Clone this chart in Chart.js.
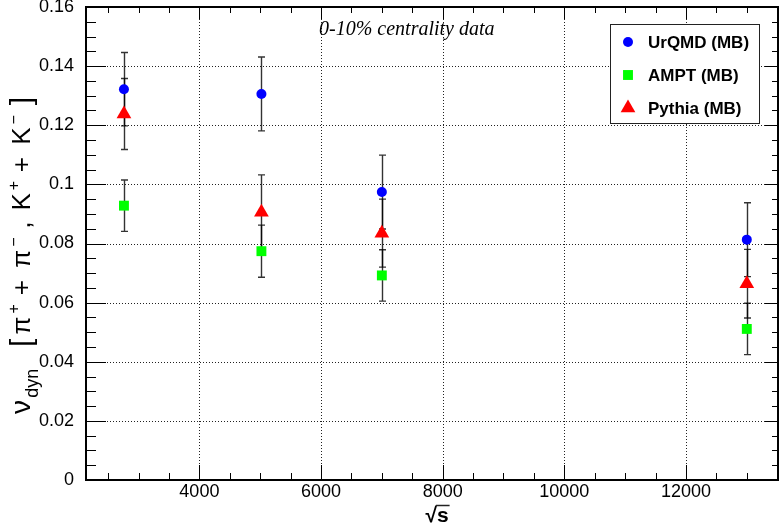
<!DOCTYPE html>
<html>
<head>
<meta charset="utf-8">
<script src="https://cdn.jsdelivr.net/npm/chart.js@4/dist/chart.umd.min.js"></script>
<style>
  html, body { margin: 0; padding: 0; background: #fff; overflow: hidden; }
  canvas { display: block; }
</style>
</head>
<body>
<canvas id="c" width="780" height="529"></canvas>
<script>
// sqrt(s) in GeV
const energies = [2760, 5020, 7000, 13000];

const urqmd = [0.1322, 0.1306, 0.0974, 0.0813];
const urqmdErr = [0.0124, 0.0125, 0.0125, 0.0125];

const ampt = [0.0928, 0.0774, 0.0692, 0.0511];
const amptErr = [0.0087, 0.0088, 0.0087, 0.0087];

const pythia = [0.1238, 0.0906, 0.0835, 0.0664];
const pythiaErr = [0.0120, 0.0126, 0.0115, 0.0116];

const xTickLabels = ['4000', '6000', '8000', '10000', '12000'];
const yTickLabels = ['0', '0.02', '0.04', '0.06', '0.08', '0.1', '0.12', '0.14', '0.16'];

const xRange = [2136, 13513];
const yRange = [0, 0.16];

const FONT = '"Liberation Sans", Arial, Helvetica, sans-serif';

const series = [
  { label: 'UrQMD (MB)', data: urqmd, err: urqmdErr, color: '#0000ff', style: 'circle', r: 5 },
  { label: 'AMPT (MB)', data: ampt, err: amptErr, color: '#00ff00', style: 'rect', r: 7 },
  { label: 'Pythia (MB)', data: pythia, err: pythiaErr, color: '#ff0000', style: 'triangle', r: 8.5 },
];

function marker(ctx, style, x, y, r, color) {
  ctx.save();
  ctx.fillStyle = color;
  ctx.beginPath();
  if (style === 'circle') {
    ctx.arc(x, y, r, 0, Math.PI * 2);
  } else if (style === 'rect') {
    const s = r / Math.SQRT2;
    ctx.rect(x - s, y - s, 2 * s, 2 * s);
  } else {
    ctx.moveTo(x, y - r);
    ctx.lineTo(x + r * 0.866, y + r / 2);
    ctx.lineTo(x - r * 0.866, y + r / 2);
    ctx.closePath();
  }
  ctx.fill();
  ctx.restore();
}

// dotted grid + error bars, under the markers
const underPlugin = {
  id: 'under',
  beforeDatasetsDraw(chart) {
    const { ctx, chartArea: a, scales: { x, y } } = chart;
    ctx.save();
    ctx.strokeStyle = '#222';
    ctx.lineWidth = 1;
    ctx.setLineDash([1, 2]);
    x.ticks.forEach(t => {
      const px = Math.round(x.getPixelForValue(t.value)) + 0.5;
      ctx.beginPath(); ctx.moveTo(px, a.top); ctx.lineTo(px, a.bottom); ctx.stroke();
    });
    y.ticks.forEach(t => {
      if (t.value <= yRange[0] || t.value >= yRange[1] - 1e-9) return;
      const py = Math.round(y.getPixelForValue(t.value)) + 0.5;
      ctx.beginPath(); ctx.moveTo(a.left, py); ctx.lineTo(a.right, py); ctx.stroke();
    });
    ctx.setLineDash([]);

    // error bars
    ctx.strokeStyle = 'rgba(0,0,0,0.8)';
    ctx.lineWidth = 1.4;
    series.forEach(s => {
      s.data.forEach((v, i) => {
        const px = Math.round(x.getPixelForValue(energies[i])) + 0.5;
        const y1 = y.getPixelForValue(v + s.err[i]);
        const y2 = y.getPixelForValue(v - s.err[i]);
        ctx.beginPath();
        ctx.moveTo(px, y1); ctx.lineTo(px, y2);
        ctx.moveTo(px - 3.5, y1); ctx.lineTo(px + 3.5, y1);
        ctx.moveTo(px - 3.5, y2); ctx.lineTo(px + 3.5, y2);
        ctx.stroke();
      });
    });
    ctx.restore();
  }
};

// frame, tick marks, legend and texts
const overPlugin = {
  id: 'over',
  afterDraw(chart) {
    const { ctx, chartArea: a, scales: { x, y } } = chart;
    ctx.save();
    ctx.strokeStyle = '#000';
    ctx.lineWidth = 1;

    // x ticks (bottom and top)
    for (let v = Math.ceil(xRange[0] / 500) * 500; v <= xRange[1]; v += 500) {
      const px = Math.round(x.getPixelForValue(v)) + 0.5;
      const major = v % 2000 === 0;
      ctx.beginPath();
      ctx.moveTo(px, a.bottom); ctx.lineTo(px, a.bottom - (major ? 15 : 7));
      ctx.moveTo(px, a.top); ctx.lineTo(px, a.top + (major ? 12 : 6));
      ctx.stroke();
    }
    // y ticks (left and right)
    for (let k = 0; k <= 32; k++) {
      const v = k * 0.005;
      const py = Math.round(y.getPixelForValue(v)) + 0.5;
      const major = k % 4 === 0;
      ctx.beginPath();
      ctx.moveTo(a.left, py); ctx.lineTo(a.left + (major ? 20 : 10), py);
      ctx.moveTo(a.right, py); ctx.lineTo(a.right - (major ? 13 : 6), py);
      ctx.stroke();
    }

    // frame
    ctx.lineWidth = 2;
    ctx.strokeRect(a.left, a.top, a.right - a.left, a.bottom - a.top);

    // legend
    const lx = 610, ly = 24, lw = 149, lh = 99;
    ctx.fillStyle = '#fff';
    ctx.fillRect(lx, ly, lw, lh);
    ctx.lineWidth = 1;
    ctx.strokeStyle = '#222';
    ctx.strokeRect(lx + 0.5, ly + 0.5, lw, lh);
    ctx.font = 'bold 17px ' + FONT;
    ctx.textBaseline = 'middle';
    ctx.textAlign = 'left';
    series.forEach((s, i) => {
      const cy = 42 + i * 33;
      marker(ctx, s.style, 628, cy, s.r, s.color);
      ctx.fillStyle = '#000';
      ctx.fillText(s.label, 648, cy + 1);
    });

    // centrality label
    ctx.font = 'italic 20px "Liberation Serif", "Times New Roman", serif';
    ctx.fillText('0-10% centrality data', 319, 30);

    // x title: sqrt(s)
    ctx.font = 'bold 21px ' + FONT;
    ctx.textBaseline = 'alphabetic';
    const rootW = ctx.measureText('\u221A').width;
    const sW = ctx.measureText('s').width;
    const tx = 437 - (rootW + sW) / 2;
    ctx.fillText('\u221A', tx, 522);
    ctx.fillText('s', tx + rootW, 522);
    ctx.lineWidth = 1.5;
    ctx.beginPath();
    ctx.moveTo(tx + rootW - 1, 505.5); ctx.lineTo(tx + rootW + sW + 1, 505.5);
    ctx.stroke();

    // y title: nu_dyn [pi+ + pi- , K+ + K-]
    const segs = [
      { t: '\u03BD', s: 28, dy: 0 },
      { t: 'dyn', s: 18, dy: 8 },
      { t: '  [', s: 30, dy: 1 },
      { t: '\u03C0', s: 26, dy: 0 },
      { t: '+', s: 16, dy: -11 },
      { t: ' + ', s: 26, dy: 0 },
      { t: '\u03C0', s: 26, dy: 0 },
      { t: '\u2212', s: 16, dy: -11 },
      { t: ' , ', s: 26, dy: 0 },
      { t: 'K', s: 26, dy: 0 },
      { t: '+', s: 16, dy: -11 },
      { t: ' + ', s: 26, dy: 0 },
      { t: 'K', s: 26, dy: 0 },
      { t: '\u2212', s: 16, dy: -11 },
      { t: ' ]', s: 30, dy: 1 },
    ];
    const stretch = 1.17;
    let total = 0;
    segs.forEach(g => { ctx.font = g.s + 'px ' + FONT; g.w = ctx.measureText(g.t).width * stretch; total += g.w; });
    ctx.translate(30, 254);
    ctx.rotate(-Math.PI / 2);
    let cx = -total / 2;
    segs.forEach(g => {
      ctx.font = g.s + 'px ' + FONT;
      ctx.fillText(g.t, cx, g.dy);
      cx += g.w;
    });
    ctx.restore();
  }
};

new Chart(document.getElementById('c'), {
  type: 'scatter',
  data: {
    datasets: series.map(s => ({
      label: s.label,
      data: s.data.map((v, i) => ({ x: energies[i], y: v })),
      pointStyle: s.style,
      pointRadius: s.r,
      pointHoverRadius: s.r,
      pointBackgroundColor: s.color,
      pointBorderWidth: 0,
      borderWidth: 0,
    })),
  },
  options: {
    responsive: false,
    animation: false,
    layout: { autoPadding: false, padding: { top: 7, right: 2, left: 0, bottom: 0 } },
    plugins: { legend: { display: false }, tooltip: { enabled: false } },
    scales: {
      x: {
        type: 'linear',
        bounds: 'data',
        min: xRange[0],
        max: xRange[1],
        grid: { display: false, drawTicks: false },
        border: { display: false },
        ticks: {
          autoSkip: false,
          maxRotation: 0,
          padding: 1,
          color: '#000',
          font: { family: FONT, size: 18 },
          callback: v => xTickLabels.find(l => Number(l) === v) ?? '',
        },
        afterBuildTicks(s) { s.ticks = xTickLabels.map(l => ({ value: Number(l) })); },
        afterFit(s) { s.height = 49; s.paddingLeft = 0; s.paddingRight = 0; },
      },
      y: {
        type: 'linear',
        bounds: 'data',
        min: yRange[0],
        max: yRange[1],
        grid: { display: false, drawTicks: false },
        border: { display: false },
        ticks: {
          padding: 12,
          color: '#000',
          font: { family: FONT, size: 18 },
          callback: v => yTickLabels.find(l => Math.abs(Number(l) - v) < 1e-9) ?? '',
        },
        afterBuildTicks(s) { s.ticks = yTickLabels.map(l => ({ value: Number(l) })); },
        afterFit(s) { s.width = 86; s.paddingTop = 0; s.paddingBottom = 0; },
      },
    },
  },
  plugins: [underPlugin, overPlugin],
});
</script>
</body>
</html>
